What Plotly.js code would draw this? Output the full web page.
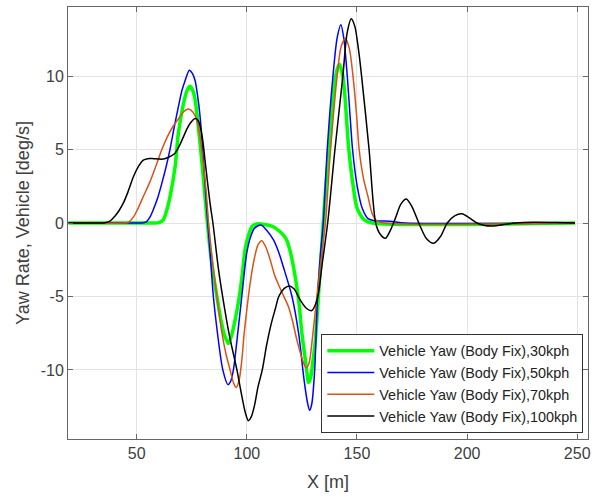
<!DOCTYPE html>
<html>
<head>
<meta charset="utf-8">
<script src="https://cdn.plot.ly/plotly-3.0.1.min.js"></script>
<style>html,body{margin:0;padding:0;background:#fff;}#chart{width:595px;height:497px;}</style>
</head>
<body>
<div id="chart"></div>
<script>
// Series names
const seriesNames = [
  "Vehicle Yaw (Body Fix),30kph",
  "Vehicle Yaw (Body Fix),50kph",
  "Vehicle Yaw (Body Fix),70kph",
  "Vehicle Yaw (Body Fix),100kph"
];

// 30 kph
const x30 = [19,50,58,60,62,63.5,65,67.4,68.9,71.2,72.8,74.2,75.5,76.5,78,79.5,81,82.1,83.3,85,86.4,88,89.8,91.6,93,94.8,96.6,98,99.2,100.8,102.3,104,105.3,108,111,113,115.1,117,118.2,119.8,121.2,123.5,125,127,128,129,130,131.1,132.5,133.6,134.5,136,137.4,140.3,142,143.6,146.3,148.2,150.1,153.5,157,249];
const y30 = [0,0,0,0.03,0.2,0.8,1.7,3.8,6.1,8.1,9.0,9.3,9.0,8.4,6.5,4.3,1.8,0,-1.8,-3.7,-5.0,-6.4,-7.6,-8.2,-7.7,-6.5,-5.0,-3.4,-1.8,-0.8,-0.25,-0.07,-0.05,-0.1,-0.2,-0.35,-0.6,-0.9,-1.2,-2.0,-3.0,-5.2,-7.5,-9.8,-10.85,-10.5,-9.4,-8.0,-5.0,-2.5,-0.4,2.8,5.0,10.0,10.8,10.0,5.0,2.6,1.0,0.2,0,0];

// 50 kph
const x50 = [19,50,53,54.5,56,57.5,59.5,61.4,63.3,65.1,67,68.9,70.5,72,73.9,75.2,76.5,77.7,78.8,80.3,81.8,83.2,84.8,86.5,89.1,91.4,92.6,93.9,95.5,97.7,100,101.8,103.5,106.4,109,112.1,114.5,116.6,120.5,123.5,126,127.5,128.5,129.5,130.8,132.1,133.4,134.7,136.5,139.1,141,142.7,144,145.6,147,148,150,152.4,155,158,165,172,249];
const y50 = [0,0,0.02,0.1,0.4,0.9,1.7,2.7,3.8,5.0,6.5,7.9,9.0,9.7,10.4,10.2,9.7,8.6,7.2,4.3,0.9,-1.8,-5.0,-7.3,-10.0,-11.0,-10.8,-10.0,-8.0,-5.0,-2.0,-0.9,-0.35,-0.14,-0.5,-1.15,-2.0,-3.0,-5.0,-7.5,-10.7,-12.2,-12.75,-12.3,-10.0,-5.0,-2.2,0,5.0,10.0,12.6,13.5,12.6,10.0,7.0,5.0,2.6,1.0,0.3,0.15,0.12,0,0];

// 70 kph
const x70 = [19,44,46.2,48.5,50.6,53,56,59,61.4,64,66.6,69,71.2,73.5,75.5,77.3,78.5,79.5,81.5,82.6,84.3,86.4,88.5,90.5,92.4,94,95.2,96.5,97.6,98.8,100.7,102,103.3,105,106.8,108.5,110.6,112.5,114.4,116.5,118.9,120.8,122.7,125.7,127,128.3,129.8,131.8,133.8,135.7,138,141,142.8,144.7,146.5,148.2,149.8,151,153,155,157,159,162,249];
const y70 = [0,0,0.05,0.4,1.0,1.8,2.8,4.0,5.0,5.9,6.6,7.1,7.55,7.75,7.55,7.0,6.1,5.0,2.2,0,-2.5,-5.0,-7.3,-8.9,-10.0,-10.9,-11.2,-10.7,-9.5,-7.5,-5.0,-3.6,-2.5,-1.5,-1.2,-1.6,-2.5,-3.5,-4.2,-4.9,-5.7,-6.7,-7.95,-9.5,-9.87,-9.5,-7.8,-5.0,-2.4,0,5.0,10.0,12.0,12.55,11.9,10.0,7.4,5.0,3.0,1.8,0.6,0.15,0,0];

// 100 kph
const x100 = [19,34,35.6,38,40,42,43.9,46,48.5,51,53,55,57.5,60,62,63.6,65.5,67.4,69.5,71.2,72.8,74.2,76.5,77.8,78.8,80,81,83.3,84.6,87,89,92,95.5,97.5,99.3,100.7,102,103.5,105,107,109,111,113,114.5,117,119.4,121.5,124.2,127,129.5,131,132.5,134.2,136.7,140,143.6,145.5,147.4,149,150.7,152.1,155.5,158.5,160.5,162.9,165,167.5,170,172.4,175,178.5,181.5,184.8,188,191,194.5,197.7,201,204.5,208,212.1,216,222,230,240,249];
const y100 = [0,0,0.02,0.15,0.45,0.85,1.35,2.1,3.15,3.9,4.28,4.38,4.38,4.35,4.35,4.42,4.55,4.75,5.3,5.86,6.4,6.77,7.11,7.0,6.6,5.6,4.28,1.34,0,-3.0,-5.0,-7.6,-10.0,-11.6,-12.9,-13.45,-13.2,-12.4,-11.2,-10.0,-8.3,-6.9,-5.8,-5.0,-4.45,-4.28,-4.5,-5.23,-5.8,-5.96,-5.6,-4.8,-2.8,0,5.0,10.0,12.9,13.9,13.4,11.8,10.0,5.0,0,-0.75,-1.04,-0.55,0.35,1.3,1.63,1.1,-0.15,-1.05,-1.38,-0.9,0,0.5,0.63,0.35,0,-0.17,-0.2,-0.12,0,0.05,0.03,0];

// Axis ticks
const xTicks = [50,100,150,200,250];
const yTicks = [-10,-5,0,5,10];

const xs = [x30, x50, x70, x100];
const ys = [y30, y50, y70, y100];
const colors = ["#00ff00", "#0000ff", "#d95319", "#000000"];
const widths = [3.5, 1.5, 1.5, 1.5];

const traces = xs.map((x, i) => ({
  type: "scatter",
  mode: "lines",
  x: x,
  y: ys[i],
  name: seriesNames[i],
  line: { color: colors[i], width: widths[i], shape: "spline", smoothing: 0.8 }
}));

const font = { family: "Liberation Sans, Arial, sans-serif", color: "#404040" };

const layout = {
  width: 595,
  height: 497,
  margin: { l: 68, r: 7, t: 7, b: 58 },
  paper_bgcolor: "#ffffff",
  plot_bgcolor: "#ffffff",
  font: Object.assign({ size: 16 }, font),
  showlegend: true,
  xaxis: {
    range: [18.8, 254.9],
    tickvals: xTicks,
    ticktext: xTicks.map(String),
    ticks: "inside",
    ticklen: 5,
    tickcolor: "#666666",
    showline: true,
    linecolor: "#666666",
    linewidth: 1,
    mirror: "ticks",
    showgrid: true,
    gridcolor: "#e3e3e3",
    gridwidth: 1,
    zeroline: false,
    tickfont: Object.assign({ size: 16 }, font),
    title: { text: "X [m]", font: Object.assign({ size: 18 }, font), standoff: 14 }
  },
  yaxis: {
    range: [-14.7, 14.7],
    tickvals: yTicks,
    ticktext: yTicks.map(String),
    ticks: "inside",
    ticklen: 5,
    tickcolor: "#666666",
    showline: true,
    linecolor: "#666666",
    linewidth: 1,
    mirror: "ticks",
    showgrid: true,
    gridcolor: "#e3e3e3",
    gridwidth: 1,
    zeroline: false,
    tickfont: Object.assign({ size: 16 }, font),
    title: { text: "Yaw Rate, Vehicle [deg/s]", font: Object.assign({ size: 18 }, font), standoff: 6 }
  },
  legend: {
    x: 0.991,
    xanchor: "right",
    y: 0.014,
    yanchor: "bottom",
    bgcolor: "#ffffff",
    bordercolor: "#333333",
    borderwidth: 1,
    font: { family: "Liberation Sans, Arial, sans-serif", size: 14.4, color: "#222222" },
    itemwidth: 47,
    tracegroupgap: 0
  }
};

Plotly.newPlot("chart", traces, layout, { staticPlot: true, displayModeBar: false });
</script>
</body>
</html>
